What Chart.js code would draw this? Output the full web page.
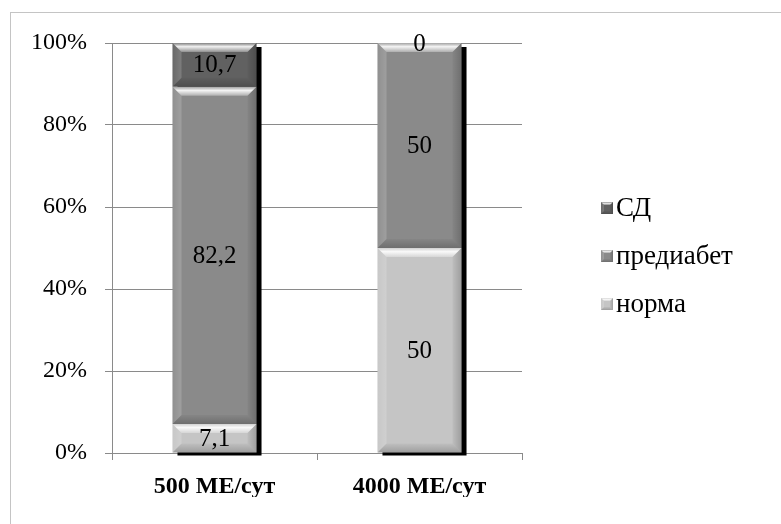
<!DOCTYPE html>
<html>
<head>
<meta charset="utf-8">
<script src="https://cdn.jsdelivr.net/npm/chart.js@4/dist/chart.umd.min.js"></script>
<style>
  html, body { margin: 0; padding: 0; background: #fff; }
  #wrap { position: relative; width: 781px; height: 524px; overflow: hidden; }
  #frame { position: absolute; left: 10px; top: 12px; width: 820px; height: 620px;
           border: 1px solid #c4c4c4; box-sizing: border-box; }
  #c { position: absolute; left: 0; top: 0; }
</style>
</head>
<body>
<div id="wrap">
  <div id="frame"></div>
  <canvas id="c" width="781" height="524"></canvas>
</div>
<script>
// Доля пациентов по статусу углеводного обмена, %
const categories = ['500 МЕ/сут', '4000 МЕ/сут'];
const normaValues = [7.1, 50];
const prediabetValues = [82.2, 50];
const sdValues = [10.7, 0];
const seriesNames = ['норма', 'предиабет', 'СД'];
const seriesColors = ['#c5c5c5', '#8a8a8a', '#616161'];
const yTickStep = 20;

const FONT = '"Liberation Serif", "Times New Roman", serif';

function fmt(v) { return String(v).replace('.', ','); }

// Drop shadow behind each whole stacked column
const shadowPlugin = {
  id: 'stackShadow',
  beforeDatasetsDraw(chart) {
    const ctx = chart.ctx;
    const n = chart.data.labels.length;
    for (let i = 0; i < n; i++) {
      let top = Infinity, bottom = -Infinity, left = 0, right = 0;
      chart.data.datasets.forEach((ds, d) => {
        const el = chart.getDatasetMeta(d).data[i];
        if (!el) return;
        top = Math.min(top, el.y, el.base);
        bottom = Math.max(bottom, el.y, el.base);
        left = el.x - el.width / 2;
        right = el.x + el.width / 2;
      });
      ctx.save();
      ctx.fillStyle = '#000';
      ctx.fillRect(left + 5, top + 4, right - left, bottom - top - 1);
      ctx.restore();
    }
  }
};

// Bevelled faces on a rectangle
function bevel(ctx, left, top, right, bottom, b) {
  ctx.save();
  // top facet
  let g = ctx.createLinearGradient(0, top, 0, top + b);
  g.addColorStop(0, 'rgba(255,255,255,0.2)');
  g.addColorStop(0.4, 'rgba(255,255,255,0.9)');
  g.addColorStop(1, 'rgba(255,255,255,0.3)');
  ctx.fillStyle = g;
  ctx.beginPath();
  ctx.moveTo(left, top); ctx.lineTo(right, top);
  ctx.lineTo(right - b, top + b); ctx.lineTo(left + b, top + b);
  ctx.closePath(); ctx.fill();
  // left facet
  g = ctx.createLinearGradient(left, 0, left + b, 0);
  g.addColorStop(0, 'rgba(255,255,255,0.05)');
  g.addColorStop(1, 'rgba(255,255,255,0.18)');
  ctx.fillStyle = g;
  ctx.beginPath();
  ctx.moveTo(left, top); ctx.lineTo(left + b, top + b);
  ctx.lineTo(left + b, bottom - b); ctx.lineTo(left, bottom);
  ctx.closePath(); ctx.fill();
  // right facet
  g = ctx.createLinearGradient(right - b, 0, right, 0);
  g.addColorStop(0, 'rgba(0,0,0,0.04)');
  g.addColorStop(1, 'rgba(0,0,0,0.2)');
  ctx.fillStyle = g;
  ctx.beginPath();
  ctx.moveTo(right, top); ctx.lineTo(right - b, top + b);
  ctx.lineTo(right - b, bottom - b); ctx.lineTo(right, bottom);
  ctx.closePath(); ctx.fill();
  // bottom facet
  g = ctx.createLinearGradient(0, bottom - b, 0, bottom);
  g.addColorStop(0, 'rgba(0,0,0,0.03)');
  g.addColorStop(1, 'rgba(0,0,0,0.2)');
  ctx.fillStyle = g;
  ctx.beginPath();
  ctx.moveTo(left, bottom); ctx.lineTo(left + b, bottom - b);
  ctx.lineTo(right - b, bottom - b); ctx.lineTo(right, bottom);
  ctx.closePath(); ctx.fill();
  ctx.restore();
}

const bevelPlugin = {
  id: 'bevel',
  afterDatasetsDraw(chart) {
    const ctx = chart.ctx;
    chart.data.datasets.forEach((ds, d) => {
      chart.getDatasetMeta(d).data.forEach(el => {
        const top = Math.min(el.y, el.base), bottom = Math.max(el.y, el.base);
        const h = bottom - top;
        if (h < 1) return;
        const left = el.x - el.width / 2, right = el.x + el.width / 2;
        bevel(ctx, left, top, right, bottom, Math.min(9, h / 2));
      });
    });
  }
};

// Value labels centred in each segment
const valueLabelPlugin = {
  id: 'valueLabels',
  afterDatasetsDraw(chart) {
    const ctx = chart.ctx;
    ctx.save();
    ctx.font = '25px ' + FONT;
    ctx.fillStyle = '#000';
    ctx.textAlign = 'center';
    ctx.textBaseline = 'middle';
    chart.data.datasets.forEach((ds, d) => {
      chart.getDatasetMeta(d).data.forEach((el, i) => {
        ctx.fillText(fmt(ds.data[i]), el.x, (el.y + el.base) / 2 + 1);
      });
    });
    ctx.restore();
  }
};

// Legend on the right, listed top-down in reverse stacking order
const legendPlugin = {
  id: 'sideLegend',
  afterDraw(chart) {
    const ctx = chart.ctx;
    const x0 = chart.chartArea.right + 79;
    const y0 = 208, step = 48;
    ctx.save();
    ctx.font = '27px ' + FONT;
    ctx.textBaseline = 'middle';
    ctx.textAlign = 'left';
    const items = chart.data.datasets.map(ds => ({ label: ds.label, color: ds.backgroundColor })).reverse();
    items.forEach((it, k) => {
      const y = y0 + k * step;
      ctx.fillStyle = it.color;
      ctx.fillRect(x0, y - 6, 12, 12);
      bevel(ctx, x0, y - 6, x0 + 12, y + 6, 3);
      ctx.fillStyle = '#000';
      ctx.fillText(it.label, x0 + 15, y + 1);
    });
    ctx.restore();
  }
};

const seriesData = [normaValues, prediabetValues, sdValues];

new Chart(document.getElementById('c'), {
  type: 'bar',
  data: {
    labels: categories,
    datasets: seriesData.map((vals, k) => ({
      label: seriesNames[k],
      data: vals,
      backgroundColor: seriesColors[k],
      borderWidth: 0,
      categoryPercentage: 1,
      barPercentage: 0.41
    }))
  },
  options: {
    responsive: false,
    animation: false,
    devicePixelRatio: 1,
    layout: { padding: { left: 30, right: 259, top: 43, bottom: 27 } },
    plugins: { legend: { display: false }, tooltip: { enabled: false } },
    scales: {
      x: {
        stacked: true,
        afterFit(scale) { scale.height = 44; },
        grid: { display: true, drawOnChartArea: false, drawTicks: true, tickLength: 7, color: '#8a8a8a', offset: true },
        border: { color: '#8a8a8a' },
        ticks: { font: { family: FONT, size: 24, weight: 'bold' }, color: '#000', padding: 12, maxRotation: 0 }
      },
      y: {
        stacked: true,
        min: 0, max: 100,
        afterFit(scale) { scale.width = 82; },
        grid: { color: '#8a8a8a', tickLength: 7 },
        border: { color: '#8a8a8a' },
        ticks: { stepSize: yTickStep, callback: v => v + '%', font: { family: FONT, size: 24 }, color: '#000', padding: 18 }
      }
    }
  },
  plugins: [shadowPlugin, bevelPlugin, valueLabelPlugin, legendPlugin]
});
</script>
</body>
</html>
